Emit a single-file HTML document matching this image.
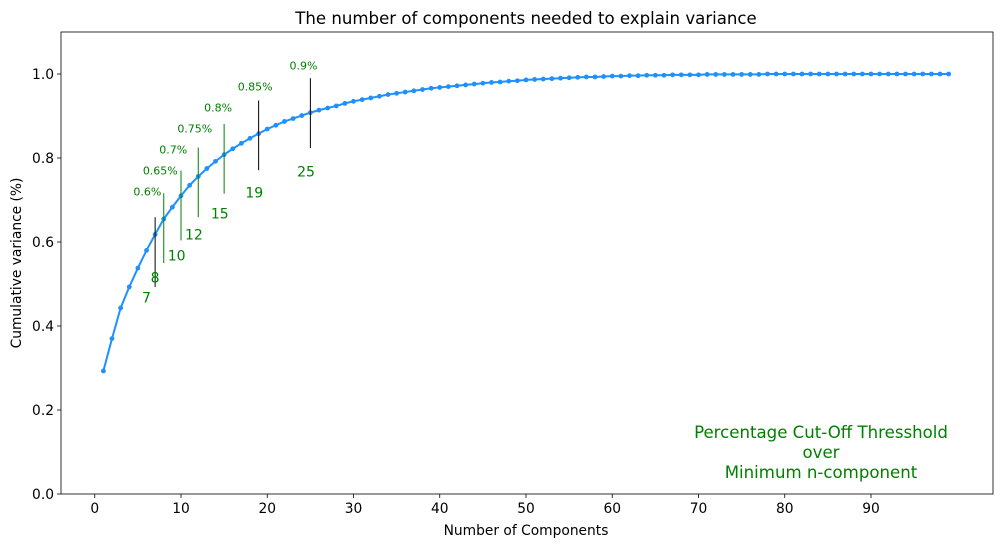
<!DOCTYPE html>
<html><head><meta charset="utf-8"><style>
body{margin:0;background:#fff;}
svg{display:block;font-family:"DejaVu Sans","Liberation Sans",sans-serif;}
</style></head><body>
<svg id="chart" width="1001" height="547" viewBox="0 0 1001 547" xmlns="http://www.w3.org/2000/svg"></svg>
<script>
const components = Array.from({length:99},(_,i)=>i+1);
const cumVariance = [0.293,0.370,0.443,0.493,0.538,0.580,0.618,0.655,0.683,0.710,0.735,0.756,0.775,0.792,0.808,0.822,0.835,0.847,0.858,0.869,
0.878,0.887,0.894,0.901,0.908,0.914,0.919,0.924,0.930,0.935,0.939,0.943,0.947,0.951,0.954,0.957,0.960,0.963,0.966,0.968,
0.970,0.972,0.974,0.976,0.978,0.980,0.981,0.983,0.984,0.986,0.987,0.988,0.989,0.990,0.991,0.992,0.993,0.993,0.994,0.995,
0.995,0.996,0.996,0.997,0.997,0.997,0.998,0.998,0.998,0.998,0.999,0.999,0.999,0.999,0.999,0.999,0.999,1.000,1.000,1.000,
1.000,1.000,1.000,1.000,1.000,1.000,1.000,1.000,1.000,1.000,1.000,1.000,1.000,1.000,1.000,1.000,1.000,1.000,1.000];
const xTicks = [0,10,20,30,40,50,60,70,80,90];
const yTicks = [0.0,0.2,0.4,0.6,0.8,1.0];
const cutComponents = [7,8,10,12,15,19,25];
const cutCenters = [0.576,0.633,0.687,0.742,0.798,0.854,0.907];
const cutColors = ["#000","green","green","green","green","#000","#000"];
const pctLabels = ["0.6%","0.65%","0.7%","0.75%","0.8%","0.85%","0.9%"];
const pctX = [6.1,7.6,9.1,11.6,14.3,18.6,24.2];
const pctY = [0.720,0.770,0.820,0.870,0.920,0.970,1.020];
const numX = [6.0,7.0,9.5,11.5,14.5,18.5,24.5];
const numY = [0.468,0.516,0.568,0.618,0.668,0.718,0.768];

const svg=document.getElementById('chart');
const L=61,R=993,T=32,B=494;
const X=v=>94.75+v*8.625;
const Y=v=>B-v*420;
const NS='http://www.w3.org/2000/svg';
function mk(tag,attrs,parent){const e=document.createElementNS(NS,tag);for(const k in attrs)e.setAttribute(k,attrs[k]);(parent||svg).appendChild(e);return e;}
function txt(s,attrs){const e=mk('text',attrs);e.textContent=s;return e;}

let t=txt('The number of components needed to explain variance',{x:526,y:24,'text-anchor':'middle','font-size':16.6});



yTicks.forEach(v=>{
  mk('line',{x1:L-4,x2:L,y1:Y(v),y2:Y(v),stroke:'#000','stroke-width':0.8});
  const e=txt(v.toFixed(1),{x:L-7,y:Y(v)+4.8,'text-anchor':'end','font-size':13.8});
  
  
});
xTicks.forEach(v=>{
  mk('line',{x1:X(v),x2:X(v),y1:B,y2:B+4,stroke:'#000','stroke-width':0.8});
  const e=txt(String(v),{x:X(v),y:B+19,'text-anchor':'middle','font-size':13.8});
  
  
});
let xl=txt('Number of Components',{x:526,y:535,'text-anchor':'middle','font-size':13.8});


let yl=txt('Cumulative variance (%)',{x:0,y:0,'text-anchor':'middle','font-size':13.8,transform:`translate(21,${(T+B)/2}) rotate(-90)`});



const pts=components.map((c,i)=>`${X(c)},${Y(cumVariance[i])}`).join(' ');
const pl=mk('polyline',{points:pts,fill:'none',stroke:'#1e90ff','stroke-width':2});


components.forEach((c,i)=>{
  const d=mk('circle',{cx:X(c),cy:Y(cumVariance[i]),r:2.4,fill:'#1e90ff'});
  
  
});

cutComponents.forEach((c,i)=>{
  const l=mk('line',{x1:X(c),x2:X(c),y1:Y(cutCenters[i]+0.083),y2:Y(cutCenters[i]-0.083),stroke:cutColors[i],'stroke-width':1});
  
  
  const n=txt(String(c),{x:X(numX[i]),y:Y(numY[i])+5,'text-anchor':'middle','font-size':14,fill:'green'});
  
  
  const p=txt(pctLabels[i],{x:X(pctX[i]),y:Y(pctY[i])+4,'text-anchor':'middle','font-size':11,fill:'green'});
  
  
});

['Percentage Cut-Off Thresshold','over','Minimum n-component'].forEach((s,i)=>{
  const e=txt(s,{x:821,y:438+i*20,'text-anchor':'middle','font-size':16.6,fill:'green'});
  
  
});

const fr=mk('rect',{x:L,y:T,width:R-L,height:B-T,fill:'none',stroke:'#000','stroke-width':0.8});


</script>
</body></html>
